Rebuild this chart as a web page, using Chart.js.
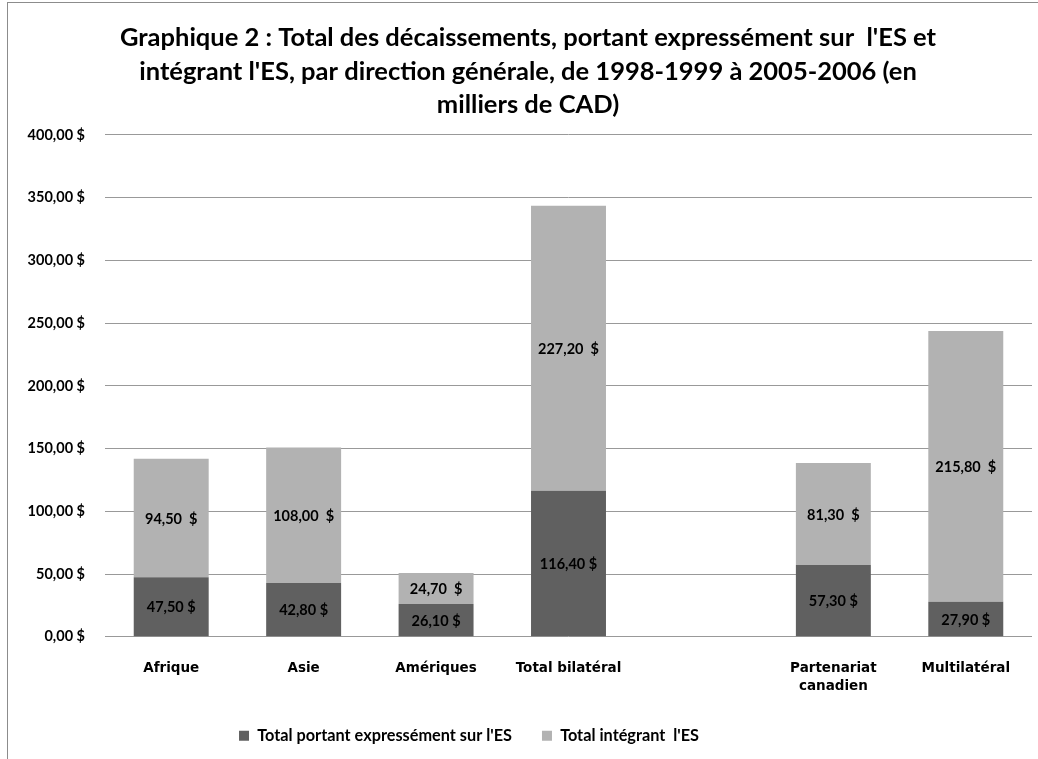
<!DOCTYPE html>
<html>
<head>
<meta charset="utf-8">
<script src="https://cdn.jsdelivr.net/npm/chart.js@4/dist/chart.umd.min.js"></script>
<style>
html,body{margin:0;padding:0;background:#fff;overflow:hidden;width:1038px;height:759px;}
#frame{position:absolute;left:7px;top:2px;width:1100px;height:900px;border-left:1px solid #8c8c8c;border-top:1px solid #8c8c8c;}
#wrap{position:absolute;left:0;top:0;width:1038px;height:767px;}
</style>
</head>
<body>
<div id="frame"></div>
<div id="wrap"><canvas id="chart"></canvas></div>
<script>
const categories=['Afrique','Asie','Amériques','Total bilatéral','',['Partenariat','canadien'],'Multilatéral'];
const explicitES=[47.5,42.8,26.1,116.4,null,57.3,27.9];
const integrantES=[94.5,108.0,24.7,227.2,null,81.3,215.8];
const seriesNames=["Total portant expressément sur l'ES","Total intégrant  l'ES"];
const titleLines=["Graphique 2 : Total des décaissements, portant expressément sur  l'ES et","intégrant l'ES, par direction générale, de 1998-1999 à 2005-2006 (en","milliers de CAD)"];

const FONT='Lato';

function fmt(v){
return v.toFixed(2).replace('.',',');
}

const valueLabels={
id:'valueLabels',
afterDatasetsDraw(chart){
const ctx=chart.ctx;
ctx.save();
ctx.font='bold 14.5px '+FONT;
ctx.fillStyle='#000';
ctx.textAlign='center';
ctx.textBaseline='middle';
chart.data.datasets.forEach((ds,i)=>{
const meta=chart.getDatasetMeta(i);
meta.data.forEach((el,j)=>{
const v=ds.data[j];
if(v==null)return;
const sep=i===0?' $':'  $';
ctx.fillText(fmt(v)+sep,el.x,(el.y+el.base)/2+1);
});
});
ctx.restore();
}
};

// excel puts the legend a bit left and the title a bit right of centre
const nudge={
id:'nudge',
afterLayout(chart){
const lg=chart.legend;
if(lg){lg.left-=47;lg.right-=47;lg.top-=13;lg.bottom-=13;}
if(chart.titleBlock){chart.titleBlock.left+=12;chart.titleBlock.right+=12;}
}
};

new Chart(document.getElementById('chart'),{
type:'bar',
data:{
labels:categories,
datasets:[{
label:seriesNames[0],
data:explicitES,
backgroundColor:'#606060',
categoryPercentage:1,
barPercentage:0.566
},{
label:seriesNames[1],
data:integrantES,
backgroundColor:'#b2b2b2',
categoryPercentage:1,
barPercentage:0.566
}]
},
options:{
responsive:true,
maintainAspectRatio:false,
animation:false,
layout:{padding:{left:0,right:6,top:6,bottom:0}},
plugins:{
title:{
display:true,
text:titleLines,
color:'#000',
font:{family:FONT,size:25.5,weight:'bold',lineHeight:1.32},
padding:{top:15,bottom:13}
},
legend:{
position:'bottom',
labels:{
color:'#000',
font:{family:FONT,size:16.3,weight:'bold'},
boxWidth:10,
boxHeight:10,
padding:30
}
},
tooltip:{enabled:false}
},
scales:{
x:{
stacked:true,
grid:{display:false},
border:{display:false},
ticks:{
color:'#000',
font:{family:'DejaVu Sans',size:13.5,weight:'bold',lineHeight:1.33},
maxRotation:0,
autoSkip:false,
padding:15
}
},
y:{
stacked:true,
min:0,
max:400,
afterFit(scale){scale.width=105;},
grid:{color:'#999999',drawTicks:false},
border:{display:false},
ticks:{
stepSize:50,
color:'#000',
padding:20,
font:{family:FONT,size:14.5,weight:'bold'},
callback:v=>fmt(v)+' $'
}
}
}
},
plugins:[valueLabels,nudge]
});
</script>
</body>
</html>
